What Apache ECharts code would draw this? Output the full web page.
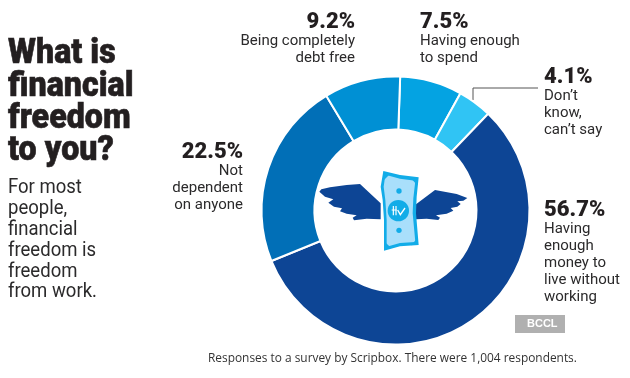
<!DOCTYPE html>
<html><head><meta charset="utf-8">
<style>html,body{margin:0;padding:0;background:#fff}#c{width:630px;height:378px}</style>
<script src="https://cdn.jsdelivr.net/npm/echarts@6/dist/echarts.min.js"></script></head>
<body><div id="c"></div>
<script>
const categories = ["Having enough\nto spend","Don’t\nknow,\ncan’t say","Having\nenough\nmoney to\nlive without\nworking","Not\ndependent\non anyone","Being completely\ndebt free"];
const values = [7.5,4.1,56.7,22.5,9.2];
const colors = ["#04A3E2","#30C4F4","#0D4595","#016FB7","#0090D4"];
const labelX = [420,544,544,243,355];
const labelY = [11,66,199,141,11];
const labelAlign = ["left","left","left","right","right"];
const titleLines = ["What is","financial","freedom","to you?"];
const subLines = ["For most","people,","financial","freedom is","freedom","from work."];
const FONT = "Roboto";
const INK = "#231F20";
const chart = echarts.init(document.getElementById('c'),null,{renderer:'canvas'});
const g = [];
titleLines.forEach((t,i)=>g.push({type:'text',x:8,y:54.5+i*32.3,scaleX:0.92,style:{text:t,font:'900 35px '+FONT,fill:INK,stroke:INK,lineWidth:0.6,verticalAlign:'middle'}}));
subLines.forEach((t,i)=>g.push({type:'text',x:8,y:188.5+i*20.8,scaleX:0.95,style:{text:t,font:'400 19.5px '+FONT,fill:'#2b2a2b',verticalAlign:'middle'}}));
g.push({type:'polyline',shape:{points:[[538,88],[473,88],[473,100]]},style:{stroke:'#555',lineWidth:1,fill:null}});
g.push({type:'rect',shape:{x:515,y:315,width:50,height:18},style:{fill:'#B0B0B0'}});
g.push({type:'text',x:527,y:324,style:{text:'BCCL',font:'700 11px "Liberation Sans"',fill:'#fff',verticalAlign:'middle'}});
g.push({type:'text',x:208,y:358.5,style:{text:'Responses to a survey by Scripbox. There were 1,004 respondents.',font:'400 11.9px "Open Sans"',fill:'#333',verticalAlign:'middle'}});
// illustration: flying banknote
const blue='#0D4595', sky='#12ACE8', pale='#A9DFFB';
const poly=(pts,fill)=>({type:'polygon',shape:{points:pts},style:{fill}});
g.push({type:'group',x:310,y:170,scaleX:1/3,scaleY:1/3,silent:true,children:[
 poly([[28,65],[34,58],[60,52],[110,45],[150,42],[212,100],[212,148],[170,146],[132,151],[128,143],[140,136],[110,131],[90,124],[96,115],[72,110],[55,98],[70,88],[45,80]],blue),
 poly([[472,84],[440,72],[375,60],[318,103],[318,148],[350,146],[385,150],[390,143],[378,136],[410,131],[430,122],[422,114],[442,110],[452,102],[442,94],[460,92]],blue),
 poly([[220,3],[270,15],[326,22],[320,80],[318,130],[326,225],[270,229],[222,242],[222,150],[218,90],[212,50]],sky),
 poly([[226,14],[270,26],[316,32],[310,85],[308,130],[316,216],[270,219],[230,230],[230,150],[226,90],[221,50]],pale),
 {type:'circle',shape:{cx:265,cy:122,r:32},style:{fill:sky}},
 {type:'circle',shape:{cx:267,cy:63,r:8},style:{fill:sky}},
 {type:'circle',shape:{cx:267,cy:181,r:8},style:{fill:sky}},
 poly([[220,8],[240,12],[222,30]],sky),poly([[324,24],[322,46],[304,26]],sky),poly([[222,238],[222,214],[244,234]],sky),poly([[324,222],[322,204],[304,226]],sky),
 {type:'polyline',shape:{points:[[250,108],[250,136]]},style:{stroke:'#fff',lineWidth:3.5,fill:null}},
 {type:'polyline',shape:{points:[[258,108],[258,136]]},style:{stroke:'#fff',lineWidth:3.5,fill:null}},
 {type:'polyline',shape:{points:[[245,120],[260,120]]},style:{stroke:'#fff',lineWidth:3,fill:null}},
 {type:'polyline',shape:{points:[[263,120],[271,134],[285,114]]},style:{stroke:'#fff',lineWidth:4,fill:null}}
]});
chart.setOption({
 animation:false,
 backgroundColor:'#fff',
 textStyle:{fontFamily:FONT},
 graphic:{elements:g},
 series:[{
  type:'pie',
  center:[395.5,210.5],
  radius:[81,134],
  startAngle:88,
  clockwise:true,
  silent:true,
  itemStyle:{borderColor:'#fff',borderWidth:2},
  data:values.map((v,i)=>({name:categories[i],value:v,itemStyle:{color:colors[i]},
    label:{align:labelAlign[i]}})),
  labelLine:{show:false},
  label:{
   show:true,position:'outside',
   formatter:p=>`{p|${values[p.dataIndex].toFixed(1)}%}\n{n|${p.name.split('\n').join('}\n{n|')}}`,
   rich:{
    p:{fontFamily:FONT,fontWeight:900,fontSize:22,color:INK,lineHeight:22},
    n:{fontFamily:FONT,fontSize:15,color:'#2b2a2b',lineHeight:17}
   }
  },
  labelLayout:p=>({x:labelX[p.dataIndex],y:labelY[p.dataIndex],align:labelAlign[p.dataIndex],verticalAlign:'top'})
 }]
});
</script></body></html>
